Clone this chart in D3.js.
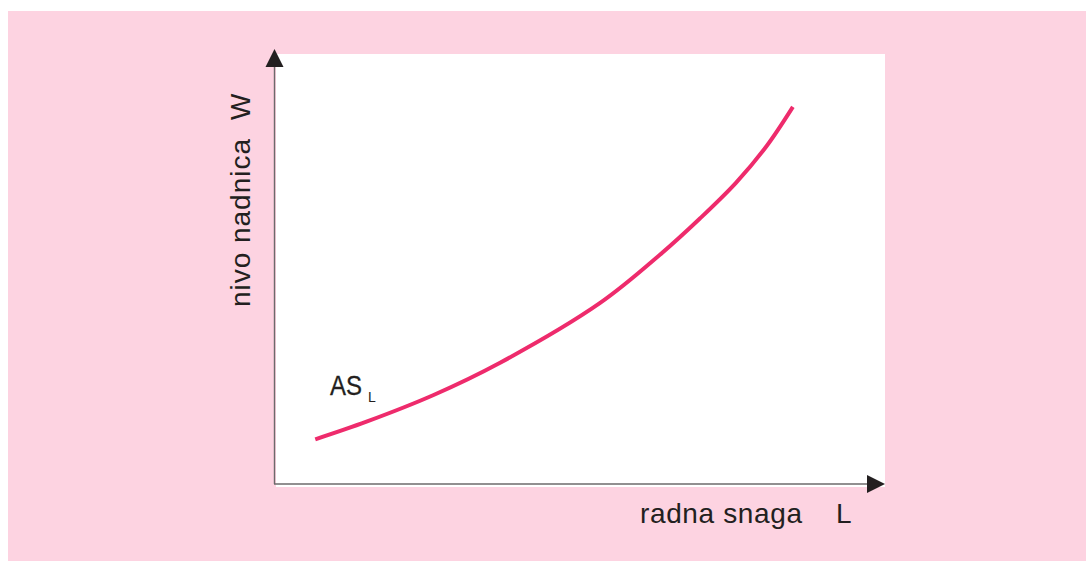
<!DOCTYPE html>
<html>
<head>
<meta charset="utf-8">
<script src="https://cdn.jsdelivr.net/npm/d3@7"></script>
<style>
  html, body { margin: 0; padding: 0; background: #fff; }
  svg { display: block; }
  text { font-family: "Liberation Sans", Arial, sans-serif; fill: #231f20; }
</style>
</head>
<body>
<svg></svg>
<script>
// supply curve AS_L, abstract units 0..10 on both axes
var labourValues = [0.66, 1.50, 2.60, 3.69, 5.33, 6.31, 6.97, 7.56, 8.06, 8.49];
var wageValues   = [1.04, 1.45, 2.07, 2.82, 4.21, 5.33, 6.18, 7.01, 7.86, 8.77];
var xLabel = ['radna snaga', 'L'];
var yLabel = ['nivo nadnica', 'W'];
var curveName = 'AS';
var curveSub = 'L';

var svg = d3.select('svg')
	.attr('width', 1086)
	.attr('height', 561);

var x = d3.scaleLinear().domain([0, 10]).range([275, 885]);
var y = d3.scaleLinear().domain([0, 10]).range([484, 54]);

// pink panel and white plot area
svg.append('rect')
	.attr('x', 8).attr('y', 11)
	.attr('width', 1078).attr('height', 550)
	.attr('fill', '#fdd3e1');

svg.append('rect')
	.attr('x', x(0) + 1).attr('y', y(10))
	.attr('width', x(10) - x(0) - 1).attr('height', y(0) - y(10) + 3)
	.attr('fill', '#fff');

// axes (no ticks)
var g = svg.append('g');
g.append('line')
	.attr('x1', x(0) - 0.5).attr('y1', y(0))
	.attr('x2', x(0) - 0.5).attr('y2', y(10) + 12)
	.attr('stroke', '#6d6a6b').attr('stroke-width', 1.4);
g.append('line')
	.attr('x1', x(0) - 1).attr('y1', y(0))
	.attr('x2', x(10) - 17).attr('y2', y(0))
	.attr('stroke', '#6d6a6b').attr('stroke-width', 1.4);

// arrowheads
g.append('path')
	.attr('d', 'M' + (x(0) - 0.5) + ',' + (y(10) - 5) +
		'L' + (x(0) + 8.5) + ',' + (y(10) + 13) +
		'L' + (x(0) - 9.5) + ',' + (y(10) + 13) + 'Z')
	.attr('fill', '#231f20');
g.append('path')
	.attr('d', 'M' + x(10) + ',' + y(0) +
		'L' + (x(10) - 18) + ',' + (y(0) - 9) +
		'L' + (x(10) - 18) + ',' + (y(0) + 9) + 'Z')
	.attr('fill', '#231f20');

// curve
var pts = labourValues.map(function(d, i) { return [d, wageValues[i]]; });
var line = d3.line()
	.x(function(d) { return x(d[0]); })
	.y(function(d) { return y(d[1]); })
	.curve(d3.curveCatmullRom.alpha(0.5));

svg.append('path')
	.datum(pts)
	.attr('d', line)
	.attr('fill', 'none')
	.attr('stroke', '#ee2b6c')
	.attr('stroke-width', 4);

// curve label
svg.append('text')
	.attr('x', 330).attr('y', 395)
	.attr('font-size', 27)
	.attr('textLength', 32)
	.attr('lengthAdjust', 'spacingAndGlyphs')
	.attr('stroke', '#231f20')
	.attr('stroke-width', 0.3)
	.text(curveName);
svg.append('text')
	.attr('x', 368).attr('y', 402)
	.attr('font-size', 14)
	.text(curveSub);

// x axis labels
svg.append('text')
	.attr('x', 640).attr('y', 523)
	.attr('font-size', 28)
	.attr('textLength', 162)
	.text(xLabel[0]);
svg.append('text')
	.attr('x', 836).attr('y', 523)
	.attr('font-size', 28)
	.text(xLabel[1]);

// y axis labels (rotated)
svg.append('text')
	.attr('transform', 'translate(250,307) rotate(-90)')
	.attr('font-size', 28)
	.attr('textLength', 168)
	.text(yLabel[0]);
svg.append('text')
	.attr('transform', 'translate(250,120) rotate(-90)')
	.attr('font-size', 28)
	.text(yLabel[1]);
</script>
</body>
</html>
